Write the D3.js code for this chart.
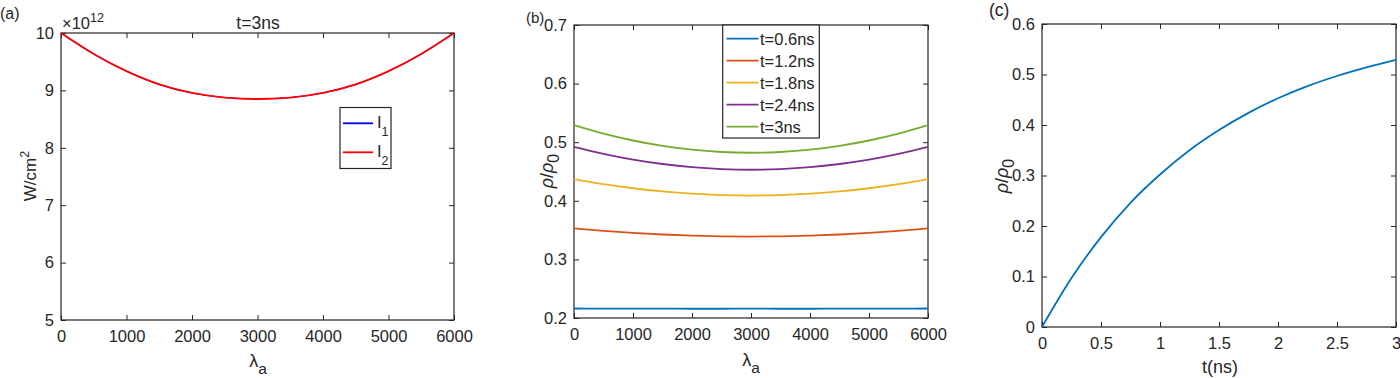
<!DOCTYPE html>
<html><head><meta charset="utf-8">
<script src="https://cdn.jsdelivr.net/npm/d3@7"></script>
<style>
body{margin:0;background:#fff}
svg{display:block}
text{font-family:"Liberation Sans",Arial,Helvetica,sans-serif;fill:#262626}
</style>
</head><body>
<svg id="chart" width="1400" height="378"></svg>
<script>
// ---------- DATA ----------
// Panel (a): intensity (x10^12 W/cm^2) vs lambda_a, t = 3 ns
const lambdaA = [0,500,1000,1500,2000,2500,3000,3500,4000,4500,5000,5500,6000];
const intensityI1 = [10,9.635,9.335,9.105,8.955,8.875,8.85,8.875,8.955,9.105,9.335,9.635,10];
const intensityI2 = [10,9.635,9.335,9.105,8.955,8.875,8.85,8.875,8.955,9.105,9.335,9.635,10];
const seriesA = ["I1","I2"];

// Panel (b): rho/rho0 vs lambda_a at several times
const lambdaB = [0,500,1000,1500,2000,2500,3000,3500,4000,4500,5000,5500,6000];
const rhoT06 = [0.2162,0.2161,0.2160,0.2159,0.2158,0.2158,0.2160,0.2158,0.2158,0.2159,0.2160,0.2161,0.2162];
const rhoT12 = [0.353,0.3487,0.3452,0.3425,0.3406,0.3394,0.339,0.3394,0.3406,0.3425,0.3452,0.3487,0.353];
const rhoT18 = [0.437,0.4284,0.4214,0.4160,0.4121,0.4098,0.409,0.4098,0.4121,0.4160,0.4214,0.4284,0.437];
const rhoT24 = [0.492,0.4801,0.4703,0.4628,0.4573,0.4541,0.453,0.4541,0.4573,0.4628,0.4703,0.4801,0.492];
const rhoT30 = [0.529,0.5146,0.5029,0.4938,0.4872,0.4833,0.482,0.4833,0.4872,0.4938,0.5029,0.5146,0.529];
const seriesB = ["t=0.6ns","t=1.2ns","t=1.8ns","t=2.4ns","t=3ns"];

// Panel (c): rho/rho0 vs t
const tNs = [0,0.25,0.5,0.75,1,1.25,1.5,1.75,2,2.25,2.5,2.75,3];
const rhoOfT = [0,0.097,0.178,0.246,0.302,0.350,0.390,0.424,0.453,0.477,0.497,0.514,0.529];

// tick values
const ticksXA = [0,1000,2000,3000,4000,5000,6000];
const ticksYA = [5,6,7,8,9,10];
const ticksXB = [0,1000,2000,3000,4000,5000,6000];
const ticksYB = [0.2,0.3,0.4,0.5,0.6,0.7];
const ticksXC = [0,0.5,1,1.5,2,2.5,3];
const ticksYC = [0,0.1,0.2,0.3,0.4,0.5,0.6];

// ---------- STYLE ----------
const FS = 16.5;   // tick font
const LFS = 18;    // axis-label font
const AX = "#262626";
const colorsA = ["#0000FF","#FF0000"];
const colorsB = ["#0072BD","#D95319","#EDB120","#7E2F8E","#77AC30"];

const svg = d3.select("#chart");

function panel(o){
  const x = d3.scaleLinear().domain(o.xDomain).range([o.left,o.right]);
  const y = d3.scaleLinear().domain(o.yDomain).range([o.bottom,o.top]);
  const g = svg.append("g");
  const tl = 5;
  const styleAxis = sel => {
    sel.select(".domain").remove();
    sel.selectAll(".tick line").attr("stroke",AX).attr("stroke-width",1);
    sel.selectAll(".tick text").attr("font-size",FS).attr("fill",AX)
       .style("font-family",'"Liberation Sans",Arial,sans-serif');
  };
  g.append("g").attr("transform",`translate(0,${o.bottom})`)
    .call(d3.axisBottom(x).tickValues(o.xTicks).tickFormat(o.xFmt||d3.format("d"))
      .tickSizeInner(-tl).tickSizeOuter(0).tickPadding(10)).call(styleAxis);
  g.append("g").attr("transform",`translate(0,${o.top})`)
    .call(d3.axisTop(x).tickValues(o.xTicks).tickFormat("")
      .tickSizeInner(-tl).tickSizeOuter(0)).call(styleAxis);
  g.append("g").attr("transform",`translate(${o.left},0)`)
    .call(d3.axisLeft(y).tickValues(o.yTicks).tickFormat(o.yFmt||d3.format("d"))
      .tickSizeInner(-tl).tickSizeOuter(0).tickPadding(7)).call(styleAxis);
  g.append("g").attr("transform",`translate(${o.right},0)`)
    .call(d3.axisRight(y).tickValues(o.yTicks).tickFormat("")
      .tickSizeInner(-tl).tickSizeOuter(0)).call(styleAxis);
  g.append("rect").attr("x",o.left).attr("y",o.top)
    .attr("width",o.right-o.left).attr("height",o.bottom-o.top)
    .attr("fill","none").attr("stroke",AX).attr("stroke-width",1.2);
  return {x,y,g};
}

function drawLine(p, xs, ys, color, w){
  const line = d3.line().x((d,i)=>p.x(xs[i])).y(d=>p.y(d)).curve(d3.curveMonotoneX);
  p.g.append("path").datum(ys).attr("d",line)
    .attr("fill","none").attr("stroke",color).attr("stroke-width",w||1.8)
    .attr("stroke-linejoin","round");
}

function lambdaLabel(cx, by){
  const t = svg.append("text").attr("x",cx).attr("y",by).attr("text-anchor","middle").attr("font-size",LFS);
  t.append("tspan").text("λ");
  t.append("tspan").attr("font-size",FS-1).attr("dy",7).text("a");
}
function rhoLabel(cx, cy){
  const t = svg.append("text").attr("transform",`translate(${cx},${cy}) rotate(-90)`)
    .attr("text-anchor","middle").attr("font-size",LFS);
  t.append("tspan").attr("font-style","italic").text("ρ");
  t.append("tspan").text("/");
  t.append("tspan").attr("font-style","italic").text("ρ");
  t.append("tspan").attr("font-size",FS-0.5).attr("dy",6).text("0");
}

// ---------- PANEL (a) ----------
const pa = panel({left:61,right:454,top:33,bottom:320,xDomain:[0,6000],yDomain:[5,10],
  xTicks:ticksXA,yTicks:ticksYA});
drawLine(pa, lambdaA, intensityI1, colorsA[0], 1.1);
drawLine(pa, lambdaA, intensityI2, colorsA[1], 1.8);
svg.append("text").attr("x",0).attr("y",19).attr("font-size",FS-0.5).text("(a)");
svg.append("text").attr("x",258).attr("y",29).attr("text-anchor","middle").attr("font-size",17.5).text("t=3ns");
{
  const t = svg.append("text").attr("x",62).attr("y",29).attr("font-size",FS);
  t.append("tspan").text("×10");
  t.append("tspan").attr("font-size",12.5).attr("dy",-7.5).text("12");
}
{
  const t = svg.append("text").attr("transform",`translate(36,176) rotate(-90)`)
    .attr("text-anchor","middle").attr("font-size",LFS-1);
  t.append("tspan").text("W/cm");
  t.append("tspan").attr("font-size",12.5).attr("dy",-7).text("2");
}
lambdaLabel(258, 367);
// legend (a)
{
  const lg = svg.append("g");
  lg.append("rect").attr("x",340).attr("y",107.5).attr("width",51).attr("height",61)
    .attr("fill","#fff").attr("stroke",AX).attr("stroke-width",1.2);
  seriesA.forEach((s,i)=>{
    const ly = 123.3 + i*29;
    lg.append("line").attr("x1",343).attr("x2",373).attr("y1",ly).attr("y2",ly)
      .attr("stroke",colorsA[i]).attr("stroke-width",1.8);
    const t = lg.append("text").attr("x",377).attr("y",ly+4.5).attr("font-size",FS);
    t.append("tspan").text(s[0]);
    t.append("tspan").attr("font-size",12.5).attr("dy",8.5).text(s.slice(1));
  });
}

// ---------- PANEL (b) ----------
const pb = panel({left:574,right:928,top:25,bottom:318,xDomain:[0,6000],yDomain:[0.2,0.7],
  xTicks:ticksXB,yTicks:ticksYB,yFmt:d3.format(".1f")});
const seriesBValues = [rhoT06,rhoT12,rhoT18,rhoT24,rhoT30];
seriesBValues.forEach((v,i)=>drawLine(pb, lambdaB, v, colorsB[i], 1.8));
svg.append("text").attr("x",526).attr("y",23).attr("font-size",FS-1.5).text("(b)");
rhoLabel(553, 171);
lambdaLabel(751, 366);
// legend (b)
{
  const lg = svg.append("g");
  lg.append("rect").attr("x",722.7).attr("y",25).attr("width",96.6).attr("height",113)
    .attr("fill","#fff").attr("stroke",AX).attr("stroke-width",1.2);
  seriesB.forEach((s,i)=>{
    const ly = 38.7 + i*22;
    lg.append("line").attr("x1",726.5).attr("x2",758.5).attr("y1",ly).attr("y2",ly)
      .attr("stroke",colorsB[i]).attr("stroke-width",1.8);
    lg.append("text").attr("x",760).attr("y",ly+6).attr("font-size",FS).text(s);
  });
}

// ---------- PANEL (c) ----------
const pc = panel({left:1042,right:1396,top:24,bottom:327,xDomain:[0,3],yDomain:[0,0.6],
  xTicks:ticksXC,yTicks:ticksYC,xFmt:d=>String(d),yFmt:d=>d===0?"0":d3.format(".1f")(d)});
drawLine(pc, tNs, rhoOfT, colorsB[0], 1.8);
svg.append("text").attr("x",989).attr("y",16).attr("font-size",FS+1).text("(c)");
rhoLabel(1008, 176);
svg.append("text").attr("x",1220).attr("y",373).attr("text-anchor","middle").attr("font-size",LFS).text("t(ns)");
</script>
</body></html>
